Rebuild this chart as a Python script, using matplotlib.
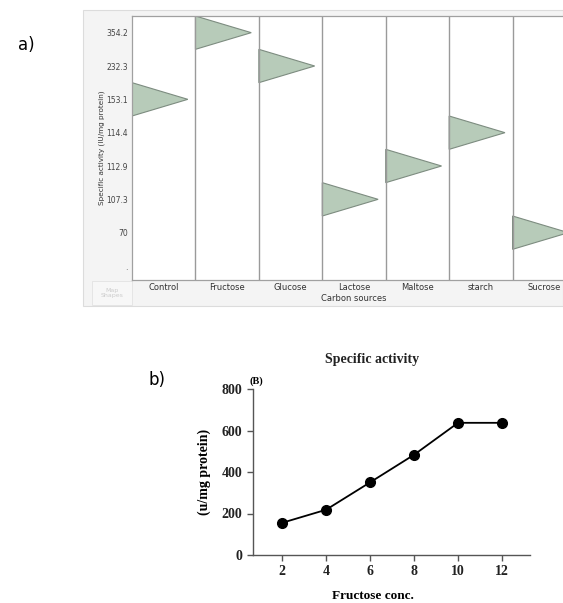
import matplotlib.pyplot as plt
from matplotlib.patches import Polygon, Rectangle

# panel a data
sources = ["Control", "Fructose", "Glucose", "Lactose", "Maltose", "starch", "Sucrose"]
level_labels = [".", "70", "107.3", "112.9", "114.4", "153.1", "232.3", "354.2"]
activity = ["153.1", "354.2", "232.3", "107.3", "112.9", "114.4", "70"]

# panel b data
fructose_conc = [2, 4, 6, 8, 10, 12]
specific_activity = [155, 218, 350, 483, 637, 637]

W, H = 563, 603
fig = plt.figure(figsize=(W / 100, H / 100), dpi=100)


def fx(px):
    return px / W


def fy(py):
    return 1 - py / H


# grey frame behind panel a
fig.patches.append(Rectangle((fx(83), fy(306)), fx(480), 296 / H, transform=fig.transFigure,
                             facecolor="#f4f4f4", edgecolor="#dcdcdc", lw=0.8, zorder=-2))
fig.patches.append(Rectangle((fx(92), fy(305)), fx(40), 24 / H, transform=fig.transFigure,
                             facecolor="#f7f7f7", edgecolor="#e2e2e2", lw=0.6, zorder=-1))
fig.text(fx(112), fy(293), "Map\nShapes", fontsize=4.5, color="#cccccc", ha="center", va="center")

# ---- panel a ----
ax1 = fig.add_axes([fx(132), fy(280), 444 / W, 264 / H])
ax1.set_xlim(0, len(sources))
ax1.set_ylim(-0.42, 7.5)
for j, val in enumerate(activity):
    lvl = level_labels.index(val)
    tri = Polygon([(j, lvl + 0.5), (j + 0.88, lvl), (j, lvl - 0.5)], closed=True,
                  facecolor="#b7cbb9", edgecolor="#7d8c80", lw=0.8)
    ax1.add_patch(tri)
for j in range(1, len(sources)):
    ax1.axvline(j, color="#9a9a9a", lw=1.0)
ax1.set_yticks(range(len(level_labels)))
ax1.set_yticklabels(level_labels, fontsize=5.5, color="#444444")
ax1.set_xticks([j + 0.5 for j in range(len(sources))])
ax1.set_xticklabels(sources, fontsize=6, color="#333333")
ax1.tick_params(axis="y", length=0, pad=3)
ax1.tick_params(axis="x", length=0, pad=2.5)
for s in ax1.spines.values():
    s.set_color("#a0a0a0")
    s.set_linewidth(0.9)
ax1.set_ylabel("Specific activity (IU/mg protein)", fontsize=5.2, color="#333333", labelpad=1)
ax1.text(3.5, -0.85, "Carbon sources", fontsize=6, color="#333333", ha="center", va="top")

fig.text(fx(18), fy(45), "a)", fontsize=12, ha="left", va="center")

# ---- panel b ----
ax2 = fig.add_axes([fx(253), fy(555), 277 / W, 166 / H])
ax2.plot(fructose_conc, specific_activity, color="black", lw=1.3, marker="o", ms=7,
         mfc="black", mec="black")
ax2.set_xlim(0.68, 13.27)
ax2.set_ylim(0, 800)
ax2.set_xticks(fructose_conc)
ax2.set_yticks([0, 200, 400, 600, 800])
for s in ["top", "right"]:
    ax2.spines[s].set_visible(False)
for s in ["left", "bottom"]:
    ax2.spines[s].set_color("#555555")
    ax2.spines[s].set_linewidth(1.0)
ax2.tick_params(direction="out", length=4, width=1, color="#555555", labelsize=10,
                labelcolor="#222222")
for lab in ax2.get_xticklabels() + ax2.get_yticklabels():
    lab.set_family("Liberation Serif")
    lab.set_fontweight("bold")
ax2.set_ylabel("(u/mg protein)", fontsize=10, fontweight="bold", family="Liberation Serif", labelpad=8)
fig.text(fx(373), fy(596), "Fructose conc.", fontsize=9.5, fontweight="bold",
         family="Liberation Serif", ha="center", va="center")
fig.text(fx(372), fy(360), "Specific activity", fontsize=10, fontweight="bold",
         family="Liberation Serif", ha="center", va="center", color="#222222")
fig.text(fx(250), fy(381), "(B)", fontsize=7.5, fontweight="bold", family="Liberation Serif",
         ha="left", va="center")
fig.text(fx(148), fy(380), "b)", fontsize=12, ha="left", va="center")

fig.savefig("out.png", dpi=100)
